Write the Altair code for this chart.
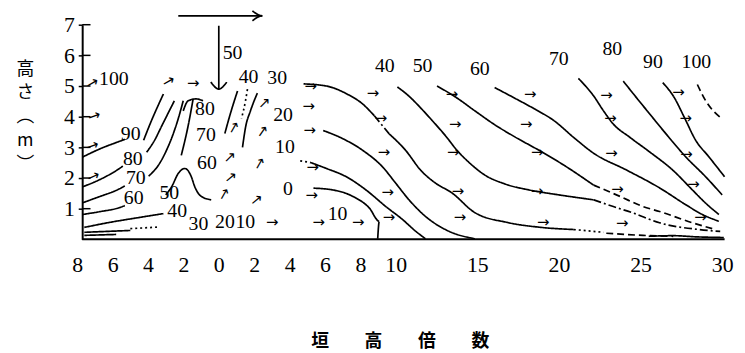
import altair as alt
import pandas as pd

# ---------------- axis ticks ----------------
X_TICKS = [-8, -6, -4, -2, 0, 2, 4, 6, 8, 10, 15, 20, 25, 30]
Y_TICKS = [1, 2, 3, 4, 5, 6, 7]

# ---------------- contour lines (x = fence-height multiples, y = height m) ----------------
# lee side
LM10_X = [5.35, 6.46, 7.58, 8.51, 9.07, 8.98]
LM10_Y = [1.67, 1.61, 1.40, 1.02, 0.59, 0.02]
L0_X = [5.16, 6.09, 7.21, 8.32, 9.44, 10.41, 11.21, 11.82]
L0_Y = [2.51, 2.31, 2.04, 1.61, 1.07, 0.65, 0.27, 0.02]
L0D_X = [4.6, 5.16]
L0D_Y = [2.56, 2.51]
L10_X = [5.90, 7.02, 8.14, 9.26, 10.0, 10.81, 11.82, 13.23, 14.85]
L10_Y = [3.55, 3.28, 2.90, 2.36, 1.83, 1.29, 0.75, 0.27, 0.02]
L30A_X = [4.79, 6.09, 7.21, 8.14, 8.79]
L30A_Y = [5.07, 5.00, 4.75, 4.41, 4.03]
L30D_X = [8.79, 9.63]
L30D_Y = [4.03, 3.44]
L30B_X = [9.63, 10.61, 11.52, 12.42, 13.43, 14.85, 16.85, 18.91, 20.91]
L30B_Y = [3.44, 2.90, 2.26, 1.84, 1.52, 0.87, 0.55, 0.39, 0.32]
L30C_X = [20.91, 22.73]
L30C_Y = [0.32, 0.23]
L30E_X = [22.9, 25.15, 27.0]
L30E_Y = [0.20, 0.13, 0.10]
L40A_X = [10.10, 10.79, 11.52, 12.24, 13.03, 13.76, 14.55, 15.45, 16.67, 18.18, 20.0, 22.12]
L40A_Y = [4.97, 4.68, 4.29, 3.87, 3.39, 2.90, 2.48, 2.10, 1.81, 1.61, 1.45, 1.29]
L40B_X = [22.12, 23.33, 24.55, 26.16, 28.59, 29.88]
L40B_Y = [1.29, 1.07, 0.86, 0.54, 0.32, 0.26]
L50A_X = [12.53, 13.64, 14.85, 16.06, 17.27, 18.79, 20.30, 22.12]
L50A_Y = [5.00, 4.65, 4.19, 3.74, 3.35, 2.90, 2.42, 1.77]
L50B_X = [22.12, 23.74, 25.15, 26.16, 28.18, 29.39]
L50B_Y = [1.77, 1.40, 1.07, 0.91, 0.54, 0.35]
L60_X = [16.06, 17.27, 18.48, 19.70, 20.91, 22.12, 24.14, 26.16, 27.77, 28.79, 29.80]
L60_Y = [4.95, 4.61, 4.26, 3.87, 3.32, 2.81, 2.26, 1.68, 1.13, 0.81, 0.59]
L70_X = [21.19, 22.12, 22.73, 23.33, 24.34, 25.56, 26.97, 28.18, 28.99, 29.80]
L70_Y = [5.25, 4.68, 4.19, 3.76, 3.33, 2.85, 2.26, 1.61, 1.18, 0.81]
L80_X = [23.94, 24.75, 25.56, 26.56, 27.77, 28.99, 30.0]
L80_Y = [5.16, 4.62, 4.09, 3.44, 2.69, 2.04, 1.45]
L90_X = [26.36, 27.07, 27.68, 28.38, 29.19, 30.15]
L90_Y = [5.11, 4.62, 3.98, 3.23, 2.69, 2.04]
L100_X = [28.48, 28.99, 30.0]
L100_Y = [5.05, 4.52, 3.93]
LBASE_X = [25.5, 27.0, 28.5, 30.1]
LBASE_Y = [0.10, 0.12, 0.08, 0.06]

# windward side
W90A_X = [-7.71, -6.76, -5.64, -5.31]
W90A_Y = [2.68, 2.94, 3.19, 3.26]
W90B_X = [-4.25, -3.85, -3.41, -3.13]
W90B_Y = [3.23, 3.81, 4.39, 4.74]
W80A_X = [-7.71, -6.76, -5.75, -5.42]
W80A_Y = [1.71, 1.94, 2.26, 2.39]
W80B_X = [-4.08, -3.63, -3.24, -2.85, -2.51]
W80B_Y = [2.84, 3.23, 3.68, 4.13, 4.52]
W70A_X = [-7.71, -6.76, -5.75, -5.31]
W70A_Y = [1.19, 1.39, 1.61, 1.74]
W70B_X = [-3.97, -3.41, -2.96, -2.57, -2.29, -2.01]
W70B_Y = [2.06, 2.42, 2.90, 3.45, 3.94, 4.52]
W60_X = [-7.71, -6.76, -5.64, -5.31]
W60_Y = [0.81, 0.90, 1.03, 1.10]
W40_X = [-7.6, -6.2, -4.53, -3.13]
W40_Y = [0.39, 0.55, 0.71, 0.84]
WB1_X = [-7.6, -5.0]
WB1_Y = [0.23, 0.29]
WB2_X = [-7.6, -5.8]
WB2_Y = [0.13, 0.16]
WBD_X = [-5.0, -3.4]
WBD_Y = [0.35, 0.40]
BUMP_X = [-3.0, -2.66, -2.29, -1.92, -1.55, -1.36, -0.99, -0.43]
BUMP_Y = [1.45, 1.72, 2.15, 2.31, 2.04, 1.72, 1.40, 1.29]
V3_X = [-1.45, -1.73, -2.12]
V3_Y = [4.58, 3.71, 2.74]
CURL_X = [-2.01, -1.73, -1.28, -0.89]
CURL_Y = [4.19, 4.52, 4.58, 4.52]
# around the fence
F1_X = [1.06, 0.67, 0.34]
F1_Y = [4.84, 4.13, 3.45]
F2_X = [1.62, 1.51, 1.28]
F2_Y = [4.90, 4.52, 3.94]
F3_X = [2.18, 1.79, 1.51, 1.34]
F3_Y = [4.77, 4.19, 3.65, 3.00]
# wind direction arrow and fence marker
WIND_X = [-2.29, 2.46]
WIND_Y = [7.29, 7.29]
WINDH_X = [1.90, 2.46, 1.90]
WINDH_Y = [7.45, 7.29, 7.13]
FENCE_X = [0.0, 0.0]
FENCE_Y = [6.97, 4.90]
FENCEH_X = [-0.45, 0.0, 0.45]
FENCEH_Y = [5.13, 4.90, 5.13]

LINES = [
    ("LM10", "solid", LM10_X, LM10_Y), ("L0", "solid", L0_X, L0_Y), ("L0D", "dot", L0D_X, L0D_Y),
    ("L10", "solid", L10_X, L10_Y), ("L30A", "solid", L30A_X, L30A_Y), ("L30D", "dashdot", L30D_X, L30D_Y),
    ("L30B", "solid", L30B_X, L30B_Y), ("L30C", "dot", L30C_X, L30C_Y), ("L30E", "dash", L30E_X, L30E_Y),
    ("L40A", "solid", L40A_X, L40A_Y), ("L40B", "dashdot", L40B_X, L40B_Y),
    ("L50A", "solid", L50A_X, L50A_Y), ("L50B", "dash", L50B_X, L50B_Y),
    ("L60", "solid", L60_X, L60_Y), ("L70", "solid", L70_X, L70_Y), ("L80", "solid", L80_X, L80_Y),
    ("L90", "solid", L90_X, L90_Y), ("L100", "dash", L100_X, L100_Y), ("LBASE", "solid", LBASE_X, LBASE_Y),
    ("W90A", "solid", W90A_X, W90A_Y), ("W90B", "solid", W90B_X, W90B_Y),
    ("W80A", "solid", W80A_X, W80A_Y), ("W80B", "solid", W80B_X, W80B_Y),
    ("W70A", "solid", W70A_X, W70A_Y), ("W70B", "solid", W70B_X, W70B_Y),
    ("W60", "solid", W60_X, W60_Y), ("W40", "solid", W40_X, W40_Y),
    ("WB1", "solid", WB1_X, WB1_Y), ("WB2", "solid", WB2_X, WB2_Y), ("WBD", "dot", WBD_X, WBD_Y),
    ("BUMP", "solid", BUMP_X, BUMP_Y), ("V3", "solid", V3_X, V3_Y), ("CURL", "solid", CURL_X, CURL_Y),
    ("F1", "solid", F1_X, F1_Y), ("F2", "dot", F2_X, F2_Y), ("F3", "solid", F3_X, F3_Y),
    ("WIND", "solid", WIND_X, WIND_Y), ("WINDH", "solid", WINDH_X, WINDH_Y),
    ("FENCE", "solid", FENCE_X, FENCE_Y), ("FENCEH", "solid", FENCEH_X, FENCEH_Y),
]

# ---------------- contour labels ----------------
LABEL_TEXT = ["100", "90", "80", "70", "60", "50", "40", "30", "20", "10",
              "80", "70", "60", "50", "40", "30", "20", "10", "0",
              "10", "40", "50", "60", "70", "80", "90", "100"]
LABEL_X = [-5.93, -4.98, -4.86, -4.69, -4.81, -2.80, -2.35, -1.15, 0.35, 1.50,
           -0.78, -0.73, -0.67, 0.78, 1.68, 3.30, 3.63, 3.74, 3.91,
           6.71, 9.38, 11.64, 15.15, 19.99, 23.27, 25.76, 28.42]
LABEL_Y = [5.23, 3.42, 2.63, 1.99, 1.34, 1.52, 0.92, 0.50, 0.55, 0.55,
           4.26, 3.39, 2.48, 6.06, 5.29, 5.26, 4.06, 3.00, 1.65,
           0.81, 5.65, 5.65, 5.55, 5.87, 6.19, 5.77, 5.77]

# ---------------- wind vectors ----------------
ARROW_X = [-7.15, -7.04, -7.15, -7.09, -2.85, -1.45,
           2.57, 2.46, 0.61, 0.67, 0.28, 2.29, 2.12, 0.84,
           5.20, 5.08, 5.14, 5.31, 5.25, 3.02, 5.64,
           8.71, 9.16, 9.33, 9.55, 9.61, 7.88,
           13.45, 13.64, 13.52, 13.82, 13.94,
           18.24, 18.0, 18.67, 18.67, 19.03,
           22.91, 23.15, 23.21, 23.58, 23.88,
           27.33, 27.76, 27.82, 28.24, 28.67]
ARROW_Y = [5.10, 4.03, 3.06, 2.06, 5.16, 5.10,
           4.45, 3.52, 2.68, 2.03, 1.48, 2.48, 1.29, 3.65,
           5.00, 4.35, 3.55, 2.35, 1.45, 0.55, 0.55,
           4.77, 3.94, 2.84, 1.55, 0.74, 0.58,
           4.74, 3.77, 2.84, 1.58, 0.74,
           4.74, 3.77, 2.84, 1.58, 0.58,
           4.71, 3.94, 2.81, 1.65, 0.52,
           4.81, 3.97, 2.77, 1.81, 0.74]
ARROW_ANGLE = [330, 340, 340, 335, 330, 0,
               315, 305, 315, 320, 300, 300, 320, 300,
               0, 0, 0, 0, 0, 0, 0,
               0, 0, 0, 0, 0, 0,
               0, 0, 0, 0, 0,
               0, 0, 0, 0, 0,
               0, 0, 0, 0, 0,
               0, 0, 0, 0, 0]

rows = []
for name, style, xs, ys in LINES:
    for i, (xv, yv) in enumerate(zip(xs, ys)):
        rows.append({"id": name, "style": style, "o": i, "x": xv, "y": yv})
lines_df = pd.DataFrame(rows)
labels_df = pd.DataFrame({"t": LABEL_TEXT, "x": LABEL_X, "y": LABEL_Y})
arrows_df = pd.DataFrame({"x": ARROW_X, "y": ARROW_Y, "a": ARROW_ANGLE})
yt_df = pd.DataFrame({"y": Y_TICKS, "x": [-7.72] * len(Y_TICKS), "x2": [-7.25] * len(Y_TICKS)})
base_df = pd.DataFrame({"y": [0.0], "x": [-7.72], "x2": [30.15]})

xscale = alt.Scale(domain=[-8, 10, 30], range=[-5, 317, 647], nice=False, zero=False)
yscale = alt.Scale(domain=[0, 7], nice=False, zero=True)

xaxis = alt.Axis(values=X_TICKS, labelExpr="abs(datum.value)", ticks=False, domain=False, grid=False,
                 labelFont="Liberation Serif", labelFontSize=22, labelColor="black", labelPadding=15,
                 labelFlush=False, labelOverlap=False,
                 title="垣　　高　　倍　　数", titleFont="Noto Sans CJK JP", titleFontSize=18,
                 titleFontWeight="bold", titleColor="black", titlePadding=58)
yaxis = alt.Axis(values=Y_TICKS, grid=False, tickSize=4, tickColor="black", tickWidth=1.5,
                 domainColor="black", domainWidth=2,
                 labelFont="Liberation Serif", labelFontSize=22, labelColor="black", labelPadding=4,
                 title=["高", "さ", "︵", "m", "︶"], titleAngle=0, titleX=-58, titleY=36,
                 titleAlign="center", titleBaseline="top", titleFont="Noto Sans CJK JP",
                 titleFontSize=18, titleFontWeight="normal", titleColor="black", titleLineHeight=24)

X = alt.X("x:Q", scale=xscale, axis=xaxis)
Y = alt.Y("y:Q", scale=yscale, axis=yaxis)

lines = alt.Chart(lines_df).mark_line(color="black", strokeWidth=1.7, interpolate="monotone").encode(
    x=X, y=Y, detail="id:N", order="o:Q",
    strokeDash=alt.StrokeDash("style:N", scale=alt.Scale(
        domain=["solid", "dash", "dot", "dashdot"],
        range=[[1, 0], [7, 4], [2, 3], [8, 3, 2, 3]]), legend=None),
)
labels = alt.Chart(labels_df).mark_text(font="Liberation Serif", fontSize=20, color="black",
                                        align="center", baseline="middle").encode(x=X, y=Y, text="t:N")
arrows = alt.Chart(arrows_df).mark_text(font="DejaVu Sans", fontSize=15, color="black", text="→",
                                        align="center", baseline="middle").encode(x=X, y=Y, angle=alt.Angle("a:Q", scale=None))
yticks = alt.Chart(yt_df).mark_rule(color="black", strokeWidth=1.5).encode(x=X, x2="x2:Q", y=Y)
base = alt.Chart(base_df).mark_rule(color="black", strokeWidth=2).encode(x=X, x2="x2:Q", y=Y)

chart = alt.layer(base, yticks, lines, arrows, labels).properties(
    width=650, height=217,
    autosize=alt.AutoSizeParams(type="none"),
    padding={"left": 75, "top": 15, "right": 12, "bottom": 113},
    background="white",
).configure_view(stroke=None)

chart.save("out.html", embed_options={"renderer": "svg", "actions": False})
